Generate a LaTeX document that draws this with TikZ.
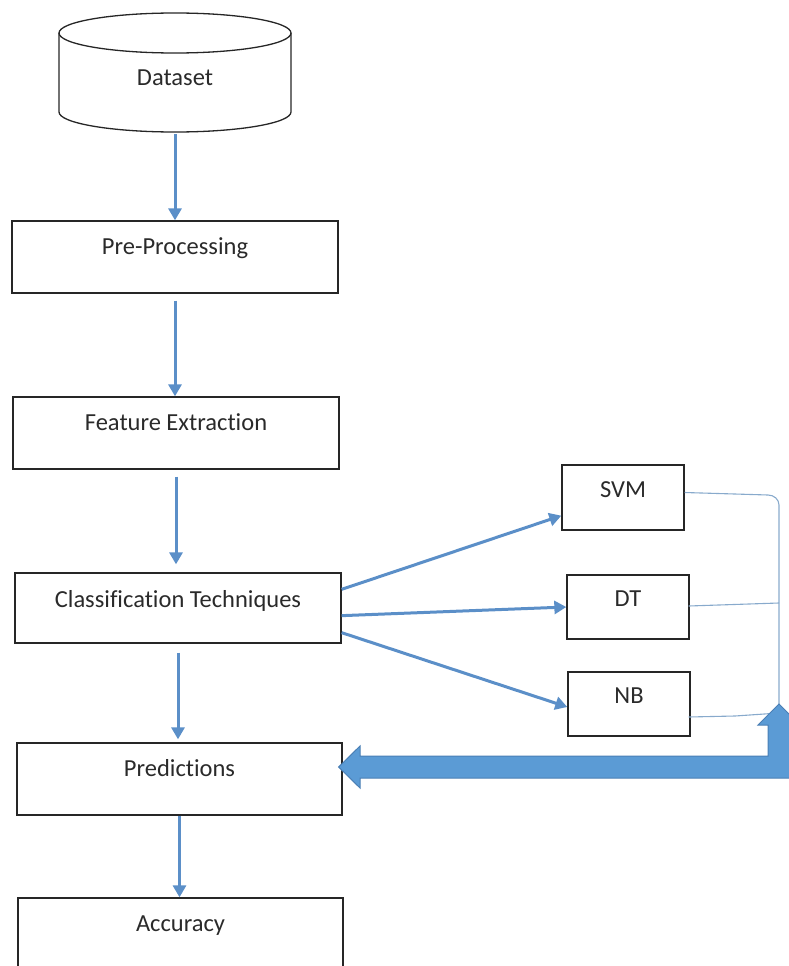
\documentclass[tikz,border=0pt]{standalone}
\usepackage{fontspec}
\setmainfont{Carlito}[Ligatures={NoCommon}]
\usetikzlibrary{arrows.meta}
\definecolor{flow}{HTML}{5B8FC8}
\definecolor{thin}{HTML}{88AACC}
\definecolor{blockfill}{HTML}{5B9BD5}
\definecolor{blockedge}{HTML}{4A7FB5}
\definecolor{ink}{HTML}{2A2A2A}
\begin{document}
\begin{tikzpicture}[x=1pt,y=1pt,
  stage/.style={draw=black!85, line width=1.3pt, inner sep=0pt, text=ink,
    font=\fontsize{24.5}{29}\selectfont, text height=17pt, text depth=22pt,
    minimum width=326pt, minimum height=72pt},
  algo/.style={stage, minimum width=122pt, minimum height=64pt, text depth=18pt},
  flowarrow/.style={draw=flow, line width=3pt, -{Triangle[length=12pt,width=13pt]}},
  feed/.style={draw=thin, line width=1.1pt},
  drum/.style={draw=black!85, line width=1.3pt}
]
\useasboundingbox (0,0) rectangle (789,-966);
\clip (0,0) rectangle (789,-966);

% dataset drum
\draw[drum] (59,-33) -- (59,-112)
  arc[start angle=180, end angle=360, x radius=116, y radius=20] -- (291,-33);
\draw[drum] (175,-33) ellipse [x radius=116, y radius=20];
\node[text=ink, font=\fontsize{24.5}{29}\selectfont] (data) at (175,-78) {Dataset};
\coordinate (dbase) at (175,-134);

% pipeline stages
\node[stage] (pre) at (175,-257) {Pre-Processing};
\node[stage] (feat) at (176,-433) {Feature Extraction};
\node[stage, minimum height=70pt, text depth=19pt] (cls) at (178,-608) {Classification Techniques};
\node[stage, minimum width=325pt] (pred) at (179.5,-779) {Predictions};
\node[stage, minimum width=325pt] (acc) at (180.5,-934) {Accuracy};

% classifiers
\node[algo, minimum height=65pt] (svm) at (623,-497.5) {SVM};
\node[algo] (dt) at (628,-607) {DT};
\node[algo] (nb) at (629,-704) {NB};

% main flow
\draw[flowarrow] (dbase) -- (pre.north);
\draw[flowarrow, shorten <=7pt] (pre.south) -- (pre.south |- feat.north);
\draw[flowarrow, shorten <=7pt, shorten >=8pt] (feat.south) -- (feat.south |- cls.north);
\draw[flowarrow, shorten <=9pt, shorten >=3pt] (cls.south) -- (cls.south |- pred.north);
\draw[flowarrow] (pred.south) -- (pred.south |- acc.north);

% branches to the classifiers
\draw[flowarrow] ([yshift=-17pt]cls.north east) -- ([yshift=15pt]svm.south west);
\draw[flowarrow] ([yshift=28pt]cls.south east) -- (dt.west);
\draw[flowarrow] ([yshift=11pt]cls.south east) -- ([yshift=-3pt]nb.west);

% outputs gathered on the right
\coordinate (jn) at (779,-704);
\draw[feed] ([yshift=5pt]svm.east) -- (768,-495) to[out=0,in=90] (779,-505) -- (jn);
\draw[feed] ([xshift=-1pt,yshift=1pt]dt.east) -- (779,-603);
\draw[feed] ([xshift=-2pt,yshift=-13pt]nb.east) -- (735,-716) -- (779,-713);

% bent block arrow back to the predictions
\coordinate (ftip) at ([shift={(-4pt,12pt)}]pred.east);
\filldraw[fill=blockfill, draw=blockedge, line width=1pt, line join=miter]
  (ftip) -- (360,-746) -- (360,-756) -- (768,-756) -- (768,-725) -- (758,-725)
  -- (jn) -- (800,-725) -- (790,-725) -- (790,-778) -- (360,-778) -- (360,-788) -- cycle;
\end{tikzpicture}
\end{document}
